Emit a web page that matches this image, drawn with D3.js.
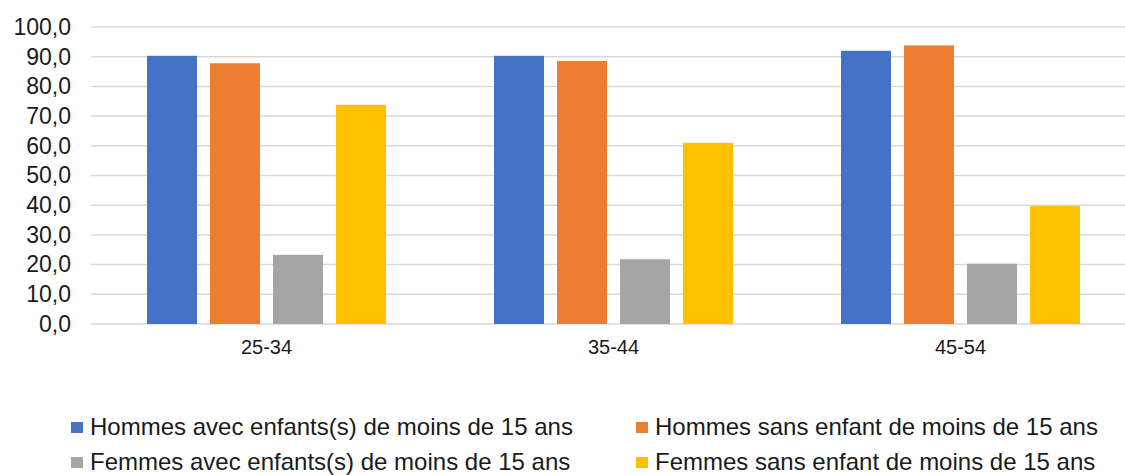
<!DOCTYPE html>
<html>
<head>
<meta charset="utf-8">
<script src="https://cdn.jsdelivr.net/npm/d3@7/dist/d3.min.js"></script>
<style>
  html, body { margin: 0; padding: 0; background: #fff; }
  svg { display: block; }
  text { font-family: "Liberation Sans", Arial, sans-serif; fill: #1a1a1a; }
</style>
</head>
<body>
<svg id="chart" width="1125" height="475"></svg>
<script>
const categories = ["25-34", "35-44", "45-54"];
const seriesNames = [
  "Hommes avec enfants(s) de moins de 15 ans",
  "Hommes sans enfant de moins de 15 ans",
  "Femmes avec enfants(s) de moins de 15 ans",
  "Femmes sans enfant de moins de 15 ans"
];
const hommesAvec = [90.3, 90.3, 92.0];
const hommesSans = [87.8, 88.6, 93.8];
const femmesAvec = [23.3, 21.8, 20.3];
const femmesSans = [73.8, 61.0, 39.7];
const yTicks = [0, 10, 20, 30, 40, 50, 60, 70, 80, 90, 100];
const colors = ["#4472C4", "#ED7D31", "#A5A5A5", "#FFC000"];

const seriesValues = [hommesAvec, hommesSans, femmesAvec, femmesSans];

const svg = d3.select("#chart");
const plotLeft = 91, plotRight = 1125;

const y = d3.scaleLinear().domain([0, 100]).range([324, 27]);
const p = 108 / 347;
const x0 = d3.scaleBand().domain(categories).range([93, 1134]).paddingInner(p).paddingOuter(p / 2);
const x1 = d3.scaleBand().domain(d3.range(4)).range([0, x0.bandwidth()]).paddingInner(13 / 63).paddingOuter(0);

// gridlines
svg.append("g").selectAll("line").data(yTicks).join("line")
  .attr("x1", plotLeft).attr("x2", plotRight)
  .attr("y1", d => y(d)).attr("y2", d => y(d))
  .attr("stroke", "#D9D9D9").attr("stroke-width", 1.5);

// y axis labels
const fmt = d => d3.format(".1f")(d).replace(".", ",");
const yAxis = d3.axisLeft(y).tickValues(yTicks).tickFormat(fmt).tickSize(0).tickPadding(0);
const yg = svg.append("g").attr("transform", "translate(71,0)").call(yAxis);
yg.select(".domain").remove();
yg.selectAll("text").attr("font-size", 23).attr("font-family", "Liberation Sans, Arial, sans-serif").attr("fill", "#1a1a1a");

// bars
const groups = svg.append("g").selectAll("g").data(categories).join("g")
  .attr("transform", c => `translate(${x0(c)},0)`);
groups.selectAll("rect").data((c, ci) => seriesValues.map((s, si) => ({ si, v: s[ci] }))).join("rect")
  .attr("x", d => x1(d.si))
  .attr("width", x1.bandwidth())
  .attr("y", d => y(d.v))
  .attr("height", d => y(0) - y(d.v))
  .attr("fill", d => colors[d.si]);

// x axis labels
const xAxis = d3.axisBottom(x0).tickSize(0).tickPadding(0);
const xg = svg.append("g").attr("transform", "translate(0,340)").call(xAxis);
xg.select(".domain").remove();
xg.selectAll("text").attr("font-size", 20).attr("font-family", "Liberation Sans, Arial, sans-serif").attr("fill", "#1a1a1a").attr("dy", "0.71em");

// legend
const legendPos = [[71, 427], [636, 427], [71, 462], [636, 462]];
const leg = svg.append("g").selectAll("g").data(seriesNames).join("g")
  .attr("transform", (d, i) => `translate(${legendPos[i][0]},${legendPos[i][1]})`);
leg.append("rect").attr("x", 0).attr("y", -5).attr("width", 12).attr("height", 11)
  .attr("fill", (d, i) => colors[i]);
leg.append("text").attr("x", 19).attr("y", 0).attr("dy", "0.35em")
  .attr("font-size", 24)
  .text(d => d);
</script>
</body>
</html>
